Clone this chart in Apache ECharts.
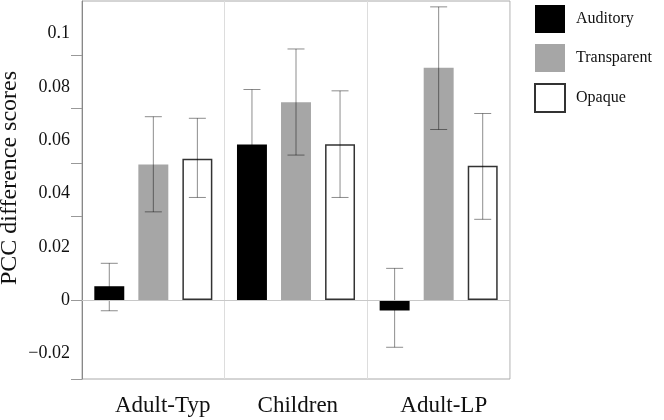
<!DOCTYPE html>
<html>
<head>
<meta charset="utf-8">
<script src="https://cdn.jsdelivr.net/npm/echarts@6/dist/echarts.min.js"></script>
<style>html,body{margin:0;padding:0;background:#fff}#c{width:664px;height:420px}</style>
</head>
<body>
<div id="c"></div>
<script>
var categories = ['Adult-Typ', 'Children', 'Adult-LP'];
var seriesNames = ['Auditory', 'Transparent', 'Opaque'];
var auditory = [0.0052, 0.0584, -0.0039];
var transparent = [0.0509, 0.0742, 0.0872];
var opaque = [0.0530, 0.0585, 0.0504];
var auditoryLow = [-0.0040, 0.0378, -0.0177];
var auditoryHigh = [0.0138, 0.0790, 0.0119];
var transparentLow = [0.0331, 0.0544, 0.0640];
var transparentHigh = [0.0688, 0.0942, 0.1100];
var opaqueLow = [0.0385, 0.0385, 0.0303];
var opaqueHigh = [0.0682, 0.0785, 0.0700];
var yTickLabels = [-0.02, 0, 0.02, 0.04, 0.06, 0.08, 0.1];
var yTickMarks = [-0.0296, 0, 0.0315, 0.0513, 0.0719, 0.0917];

var FONT = "'Liberation Serif', 'Times New Roman', serif";
var BAR_PCT = 0.21, GAP_RATIO = 0.47, LABEL_OFF = 0.231;
var values = [auditory, transparent, opaque];
var lows = [auditoryLow, transparentLow, opaqueLow];
var highs = [auditoryHigh, transparentHigh, opaqueHigh];
var styles = [
  {color: '#000000'},
  {color: '#a6a6a6'},
  {color: '#ffffff', borderColor: '#333333', borderWidth: 1.5}
];

var series = [];
seriesNames.forEach(function (name, i) {
  series.push({
    name: name, type: 'bar', xAxisIndex: 0, yAxisIndex: 0,
    barWidth: (BAR_PCT * 100) + '%', barGap: (GAP_RATIO * 100) + '%',
    itemStyle: styles[i], z: 3, data: values[i]
  });
});
seriesNames.forEach(function (name, i) {
  series.push({
    type: 'custom', xAxisIndex: 0, yAxisIndex: 0, z: 4, silent: true,
    data: categories.map(function (c, k) { return [k, lows[i][k], highs[i][k]]; }),
    renderItem: function (params, api) {
      var bw = api.size([1, 0])[0];
      var w = bw * BAR_PCT;
      var off = (i - 1) * (w + w * GAP_RATIO);
      var lo = api.coord([api.value(0), api.value(1)]);
      var hi = api.coord([api.value(0), api.value(2)]);
      var x = lo[0] + off, cap = 8.5;
      var st = {stroke: 'rgba(0,0,0,0.45)', lineWidth: 1};
      return {type: 'group', children: [
        {type: 'line', shape: {x1: x, y1: lo[1], x2: x, y2: hi[1]}, style: st},
        {type: 'line', shape: {x1: x - cap, y1: lo[1], x2: x + cap, y2: lo[1]}, style: st},
        {type: 'line', shape: {x1: x - cap, y1: hi[1], x2: x + cap, y2: hi[1]}, style: st}
      ]};
    }
  });
});
series.push({
  type: 'line', data: [], z: 1, silent: true,
  markLine: {silent: true, symbol: 'none', label: {show: false},
    lineStyle: {color: '#c8c8c8', type: 'solid', width: 1},
    data: [{yAxis: 0}]}
});

var chart = echarts.init(document.getElementById('c'), null, {renderer: 'canvas'});
chart.setOption({
  animation: false,
  backgroundColor: '#ffffff',
  grid: {left: 82, right: 154, top: 1, bottom: 41, show: true, borderColor: '#aaaaaa', borderWidth: 1,
    containLabel: false, outerBoundsMode: 'none'},
  legend: {
    data: seriesNames, orient: 'vertical', left: 534, top: 5, padding: 0,
    itemWidth: 30, itemHeight: 28, itemGap: 11, icon: 'rect',
    textStyle: {fontFamily: FONT, fontSize: 16, color: '#111', padding: [0, 0, 0, 6]}
  },
  xAxis: [{
    type: 'category', data: categories,
    axisLine: {show: false}, axisTick: {show: false}, axisLabel: {show: false},
    splitLine: {show: true, interval: 0, lineStyle: {color: '#dddddd', width: 1}}
  }, {
    type: 'value', min: 0, max: categories.length, position: 'bottom',
    axisLine: {show: false}, axisTick: {show: false}, splitLine: {show: false},
    axisLabel: {
      customValues: categories.map(function (c, k) { return k + LABEL_OFF; }),
      formatter: function (v) { return categories[Math.round(v - LABEL_OFF)]; },
      align: 'left', margin: 15, fontFamily: FONT, fontSize: 23, color: '#111'
    }
  }],
  yAxis: {
    type: 'value', min: -0.0296, max: 0.1122,
    name: 'PCC difference scores', nameLocation: 'middle', nameGap: 60, nameMoveOverlap: false,
    nameTextStyle: {fontFamily: FONT, fontSize: 24, color: '#111', padding: [0, 0, 0, 24]},
    axisLine: {show: true, lineStyle: {color: '#888888'}},
    axisTick: {show: true, customValues: yTickMarks, length: 11, lineStyle: {color: '#999999'}},
    splitLine: {show: false},
    axisLabel: {
      customValues: yTickLabels, margin: 12, fontFamily: FONT, fontSize: 18, color: '#111',
      formatter: function (v) {
        var s = String(Math.round(v * 100) / 100);
        return s.replace('-', '\u2212');
      }
    }
  },
  series: series
});
</script>
</body>
</html>
